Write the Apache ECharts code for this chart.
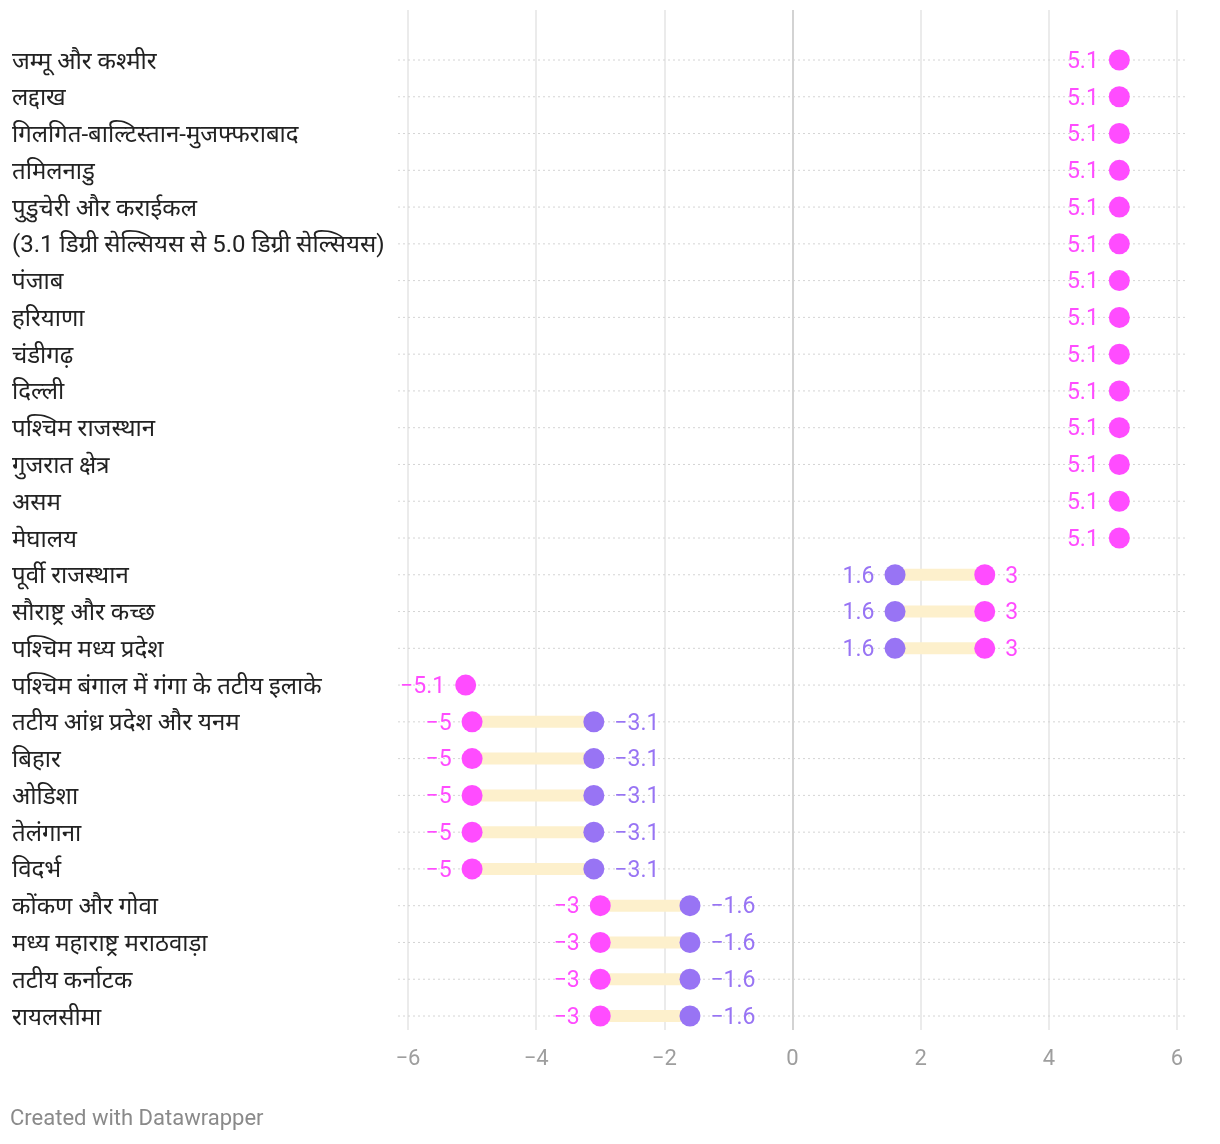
<!DOCTYPE html>
<html>
<head>
<meta charset="utf-8">
<script src="https://cdn.jsdelivr.net/npm/echarts@6/dist/echarts.min.js"></script>
<style>
html,body{margin:0;padding:0;background:#fff;}
#chart{width:1220px;height:1144px;}
</style>
</head>
<body>
<div id="chart"></div>
<script>
const categories = [
  "जम्मू और कश्मीर",
  "लद्दाख",
  "गिलगित-बाल्टिस्तान-मुजफ्फराबाद",
  "तमिलनाडु",
  "पुडुचेरी और कराईकल",
  "(3.1 डिग्री सेल्सियस से 5.0 डिग्री सेल्सियस)",
  "पंजाब",
  "हरियाणा",
  "चंडीगढ़",
  "दिल्ली",
  "पश्चिम राजस्थान",
  "गुजरात क्षेत्र",
  "असम",
  "मेघालय",
  "पूर्वी राजस्थान",
  "सौराष्ट्र और कच्छ",
  "पश्चिम मध्य प्रदेश",
  "पश्चिम बंगाल में गंगा के तटीय इलाके",
  "तटीय आंध्र प्रदेश और यनम",
  "बिहार",
  "ओडिशा",
  "तेलंगाना",
  "विदर्भ",
  "कोंकण और गोवा",
  "मध्य महाराष्ट्र मराठवाड़ा",
  "तटीय कर्नाटक",
  "रायलसीमा"
];
// purple series (start)
const purpleValues = [null,null,null,null,null,null,null,null,null,null,null,null,null,null,
  1.6,1.6,1.6, null, -3.1,-3.1,-3.1,-3.1,-3.1, -1.6,-1.6,-1.6,-1.6];
// pink series (end)
const pinkValues = [5.1,5.1,5.1,5.1,5.1,5.1,5.1,5.1,5.1,5.1,5.1,5.1,5.1,5.1,
  3,3,3, -5.1, -5,-5,-5,-5,-5, -3,-3,-3,-3];
const xTicks = [-6,-4,-2,0,2,4,6];

const PINK = '#ff4cff';
const PURPLE = '#9874f4';
const BAR = '#fdf0cc';
const FONT = "Roboto, 'Noto Sans', 'DejaVu Sans', sans-serif";

function fmt(v){ return (v < 0 ? '\u2212' : '') + Math.abs(v); }

const pinkData = [], purpleData = [], rangeData = [];
categories.forEach((c, i) => {
  const pk = pinkValues[i], pu = purpleValues[i];
  if (pk != null) {
    const side = (pu == null || pk < pu) ? 'left' : 'right';
    pinkData.push({value: [pk, c], label: {position: side}});
  }
  if (pu != null) {
    const side = (pu < pk) ? 'left' : 'right';
    purpleData.push({value: [pu, c], label: {position: side}});
  }
  if (pk != null && pu != null) rangeData.push([pu, pk, c]);
});

const chart = echarts.init(document.getElementById('chart'));
chart.setOption({
  animation: false,
  textStyle: {fontFamily: FONT},
  grid: [
    {left: 408, right: 43, top: 60, bottom: 128},
    {left: 408, right: 43, top: 10, bottom: 114}
  ],
  xAxis: [
    {gridIndex: 0, type: 'value', min: -6, max: 6, interval: 2, show: false},
    {gridIndex: 1, type: 'value', min: -6, max: 6, interval: 2,
      axisLine: {show: false}, axisTick: {show: false},
      splitLine: {show: true, lineStyle: {width: 1.5,
        color: xTicks.map(t => t === 0 ? '#c4c4c4' : '#e4e4e4')}},
      axisLabel: {color: '#9e9e9e', fontSize: 22, margin: 18, fontFamily: FONT,
        formatter: v => fmt(v)}}
  ],
  yAxis: [
    {gridIndex: 0, type: 'category', data: categories, inverse: true, boundaryGap: false,
      axisLine: {show: false}, axisTick: {show: false},
      splitLine: {show: false},
      axisLabel: {align: 'left', margin: 396, color: '#222', fontFamily: FONT,
        formatter: v => '{a|' + v + '}',
        rich: {a: {fontSize: 24, color: '#222', fontFamily: FONT, padding: [5, 0, 0, 0]}}}},
    {gridIndex: 1, type: 'value', show: false, min: 0, max: 1}
  ],
  series: [
    {
      // dotted row guide lines
      type: 'custom', xAxisIndex: 0, yAxisIndex: 0, z: 1, silent: true,
      data: categories.map(c => [c]),
      encode: {y: 0},
      renderItem: function (params, api) {
        const a = api.coord([-6, api.value(0)]);
        const b = api.coord([6, api.value(0)]);
        return {type: 'line', shape: {x1: a[0] - 10, y1: a[1], x2: b[0] + 11, y2: b[1]},
          style: {stroke: '#d4d4d4', lineWidth: 1, lineDash: [2, 3]}};
      }
    },
    {
      type: 'custom', xAxisIndex: 0, yAxisIndex: 0, z: 2,
      data: rangeData,
      encode: {x: [0, 1], y: 2},
      renderItem: function (params, api) {
        const a = api.coord([api.value(0), api.value(2)]);
        const b = api.coord([api.value(1), api.value(2)]);
        return {type: 'line', shape: {x1: a[0], y1: a[1], x2: b[0], y2: b[1]},
          style: {stroke: BAR, lineWidth: 12}};
      }
    },
    {
      type: 'scatter', xAxisIndex: 0, yAxisIndex: 0, z: 3,
      symbolSize: 21, itemStyle: {color: PURPLE, opacity: 1},
      data: purpleData,
      label: {show: true, distance: 10, offset: [0, 2], color: PURPLE, fontSize: 23, fontFamily: FONT,
        formatter: p => fmt(p.value[0])}
    },
    {
      type: 'scatter', xAxisIndex: 0, yAxisIndex: 0, z: 3,
      symbolSize: 21, itemStyle: {color: PINK, opacity: 1},
      data: pinkData,
      label: {show: true, distance: 10, offset: [0, 2], color: PINK, fontSize: 23, fontFamily: FONT,
        formatter: p => fmt(p.value[0])}
    }
  ],
  graphic: [
    {type: 'text', left: 10, top: 1108,
      style: {text: 'Created with Datawrapper', fill: '#8a8a8a', fontSize: 22, fontFamily: FONT}}
  ]
});
</script>
</body>
</html>
